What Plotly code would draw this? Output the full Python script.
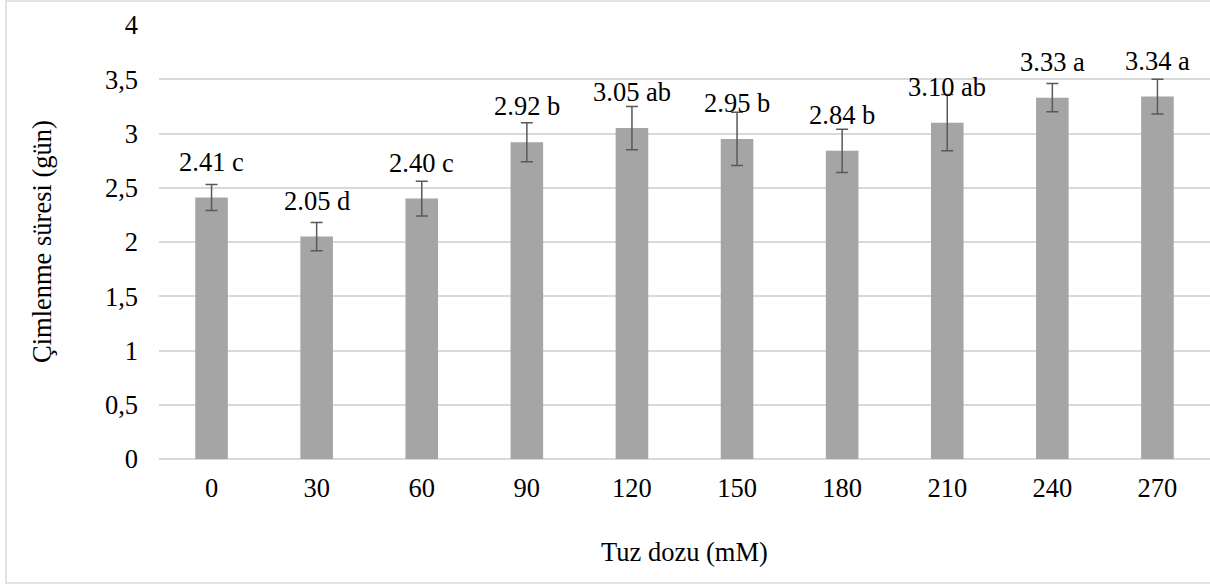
import plotly.graph_objects as go

categories = ["0", "30", "60", "90", "120", "150", "180", "210", "240", "270"]
values = [2.41, 2.05, 2.40, 2.92, 3.05, 2.95, 2.84, 3.10, 3.33, 3.34]
errors = [0.12, 0.13, 0.16, 0.18, 0.20, 0.245, 0.20, 0.26, 0.13, 0.16]
letters = ["c", "d", "c", "b", "ab", "b", "b", "ab", "a", "a"]
y_tickvals = [0, 0.5, 1, 1.5, 2, 2.5, 3, 3.5, 4]
y_ticktext = ["0", "0,5", "1", "1,5", "2", "2,5", "3", "3,5", "4"]

FONT = "Liberation Serif"
FS = 26.5
positions = list(range(len(categories)))

fig = go.Figure()
fig.add_trace(go.Bar(
    x=positions, y=values,
    marker=dict(color="#A5A5A5", line=dict(width=0)),
    error_y=dict(type="data", array=errors, visible=True,
                 color="#595959", thickness=1.5, width=6),
    width=0.31,
    hoverinfo="skip",
))

for p, v, l in zip(positions, values, letters):
    fig.add_annotation(x=p, y=v, text=f"{v:.2f} {l}", showarrow=False,
                       xanchor="center", yanchor="bottom", yshift=19,
                       font=dict(family=FONT, size=FS, color="black"))

fig.add_annotation(xref="paper", yref="paper", x=0.5, y=-0.2147,
                   text="Tuz dozu (mM)", showarrow=False,
                   xanchor="center", yanchor="middle",
                   font=dict(family=FONT, size=FS, color="black"))
fig.add_annotation(xref="paper", yref="paper", x=-0.1113, y=0.5,
                   text="Çimlenme süresi (gün)", showarrow=False, textangle=-90,
                   xanchor="center", yanchor="middle",
                   font=dict(family=FONT, size=FS, color="black"))

fig.add_shape(type="rect", xref="paper", yref="paper",
              x0=-0.1456, x1=1.02, y0=-0.2857, y1=1.0553,
              line=dict(color="#D9D9D9", width=1.5), layer="below")

fig.update_layout(
    width=1210, height=585,
    margin=dict(l=159, r=0, t=25, b=126),
    paper_bgcolor="white", plot_bgcolor="white",
    showlegend=False,
    font=dict(family=FONT, size=FS, color="black"),
    xaxis=dict(range=[-0.5, len(categories) - 0.5],
               tickvals=positions, ticktext=categories,
               showgrid=False, showline=False, zeroline=False,
               ticks="", tickfont=dict(family=FONT, size=FS, color="black"),
               ticklabelstandoff=10),
    yaxis=dict(range=[0, 4], tickvals=y_tickvals, ticktext=y_ticktext,
               showgrid=True, gridcolor="#D9D9D9", gridwidth=1.5,
               zeroline=True, zerolinecolor="#D9D9D9", zerolinewidth=1.5,
               showline=False, ticks="",
               tickfont=dict(family=FONT, size=FS, color="black"),
               ticklabelstandoff=20),
)

fig.write_html("out.html")
